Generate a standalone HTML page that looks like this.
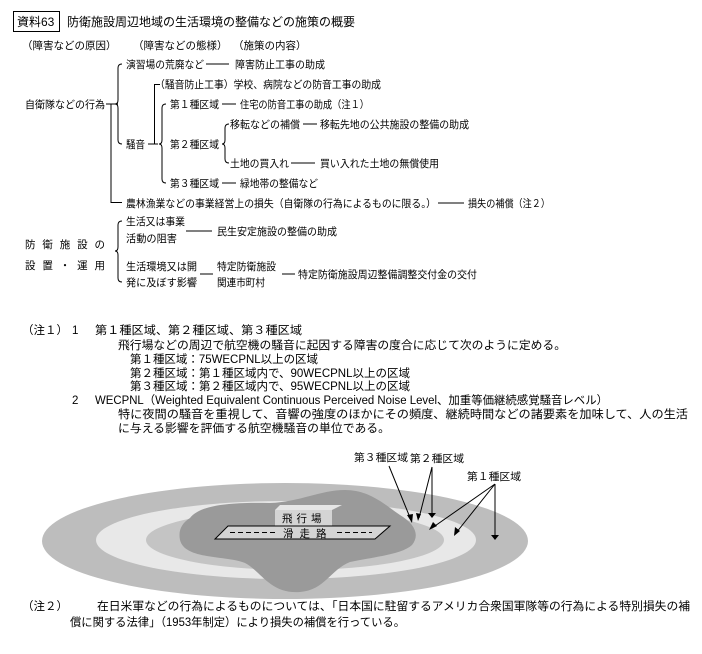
<!DOCTYPE html>
<html><head><meta charset="utf-8"><style>
html,body{margin:0;padding:0;background:#fff;}
svg{display:block;}
text{font-family:"Liberation Sans","Noto Sans CJK JP",sans-serif;font-size:10.5px;fill:#000;}
.t{font-size:12px;}
.n{font-size:11.5px;}
</style></head><body>
<svg width="702" height="654" viewBox="0 0 702 654" xmlns="http://www.w3.org/2000/svg">
<g fill="none" stroke="#000" stroke-width="1">
<rect x="13.5" y="11.5" width="46" height="20"/>
<path d="M106 104H118M111 104V202.5H122"/>
<path d="M122 64Q118 64 118 68V100Q118 104 115 104Q118 104 118 108V140Q118 144 122 144"/>
<path d="M148 144H158M154.5 144V84.5H160"/>
<path d="M166 104Q162 104 162 108V140Q162 144 159 144Q162 144 162 148V179Q162 183 166 183"/>
<path d="M229 124Q225 124 225 128V140Q225 144 222 144Q225 144 225 148V159Q225 163 229 163"/>
<path d="M206 64H229M222 104H236M303 124H317M291 163H315M222 183H236M438 203H464"/>
<path d="M122 221Q118 221 118 225V247Q118 251 115 251Q118 251 118 255V278Q118 282 122 282"/>
<path d="M186 231H212M200 274H213M282 274H295"/>
</g>
<text class="t" x="17" y="26">資料63</text>
<text class="t" x="67" y="26">防衛施設周辺地域の生活環境の整備などの施策の概要</text>
<text x="22" y="49">（障害などの原因）</text>
<text x="133" y="49">（障害などの態様）</text>
<text x="233" y="49">（施策の内容）</text>
<text x="126" y="68" textLength="78" lengthAdjust="spacingAndGlyphs">演習場の荒廃など</text>
<text x="235" y="68" textLength="90" lengthAdjust="spacingAndGlyphs">障害防止工事の助成</text>
<text x="155" y="88" textLength="226" lengthAdjust="spacingAndGlyphs">（騒音防止工事）学校、病院などの防音工事の助成</text>
<text x="25" y="108" textLength="80" lengthAdjust="spacingAndGlyphs">自衛隊などの行為</text>
<text x="170" y="108" textLength="49" lengthAdjust="spacingAndGlyphs">第１種区域</text>
<text x="240" y="108" textLength="129" lengthAdjust="spacingAndGlyphs">住宅の防音工事の助成（注１）</text>
<text x="230" y="128" textLength="70" lengthAdjust="spacingAndGlyphs">移転などの補償</text>
<text x="320" y="128" textLength="149" lengthAdjust="spacingAndGlyphs">移転先地の公共施設の整備の助成</text>
<text x="126" y="148" textLength="19" lengthAdjust="spacingAndGlyphs">騒音</text>
<text x="170" y="148" textLength="49" lengthAdjust="spacingAndGlyphs">第２種区域</text>
<text x="230" y="167" textLength="59" lengthAdjust="spacingAndGlyphs">土地の買入れ</text>
<text x="320" y="167" textLength="119" lengthAdjust="spacingAndGlyphs">買い入れた土地の無償使用</text>
<text x="170" y="187" textLength="49" lengthAdjust="spacingAndGlyphs">第３種区域</text>
<text x="240" y="187" textLength="78" lengthAdjust="spacingAndGlyphs">緑地帯の整備など</text>
<text x="126" y="207" textLength="310" lengthAdjust="spacingAndGlyphs">農林漁業などの事業経営上の損失（自衛隊の行為によるものに限る。）</text>
<text x="468" y="207" textLength="82" lengthAdjust="spacingAndGlyphs">損失の補償（注２）</text>
<text x="126" y="225" textLength="59" lengthAdjust="spacingAndGlyphs">生活又は事業</text>
<text x="126" y="242" textLength="51" lengthAdjust="spacingAndGlyphs">活動の阻害</text>
<text x="217" y="235" textLength="120" lengthAdjust="spacingAndGlyphs">民生安定施設の整備の助成</text>
<text x="25" y="248" textLength="80" lengthAdjust="spacing">防衛施設の</text>
<text x="25" y="269" textLength="80" lengthAdjust="spacing">設置・運用</text>
<text x="126" y="270" textLength="71" lengthAdjust="spacingAndGlyphs">生活環境又は開</text>
<text x="126" y="286" textLength="71" lengthAdjust="spacingAndGlyphs">発に及ぼす影響</text>
<text x="217" y="270" textLength="59" lengthAdjust="spacingAndGlyphs">特定防衛施設</text>
<text x="217" y="286" textLength="48" lengthAdjust="spacingAndGlyphs">関連市町村</text>
<text x="298" y="278" textLength="179" lengthAdjust="spacingAndGlyphs">特定防衛施設周辺整備調整交付金の交付</text>

<text class="n" x="22" y="334">（注１）</text><text class="n" x="72" y="334">1</text>
<text class="n" x="95" y="334" textLength="207" lengthAdjust="spacingAndGlyphs">第１種区域、第２種区域、第３種区域</text>
<text class="n" x="118" y="349" textLength="448" lengthAdjust="spacingAndGlyphs">飛行場などの周辺で航空機の騒音に起因する障害の度合に応じて次のように定める。</text>
<text class="n" x="130" y="363" textLength="188" lengthAdjust="spacingAndGlyphs">第１種区域：75WECPNL以上の区域</text>
<text class="n" x="130" y="377" textLength="280" lengthAdjust="spacingAndGlyphs">第２種区域：第１種区域内で、90WECPNL以上の区域</text>
<text class="n" x="130" y="390" textLength="280" lengthAdjust="spacingAndGlyphs">第３種区域：第２種区域内で、95WECPNL以上の区域</text>
<text class="n" x="72" y="404">2</text>
<text class="n" x="95" y="404" textLength="513" lengthAdjust="spacingAndGlyphs">WECPNL（Weighted Equivalent Continuous Perceived Noise Level、加重等価継続感覚騒音レベル）</text>
<text class="n" x="118" y="418" textLength="570" lengthAdjust="spacingAndGlyphs">特に夜間の騒音を重視して、音響の強度のほかにその頻度、継続時間などの諸要素を加味して、人の生活</text>
<text class="n" x="118" y="432" textLength="272" lengthAdjust="spacingAndGlyphs">に与える影響を評価する航空機騒音の単位である。</text>

<ellipse cx="285" cy="541" rx="243" ry="58" fill="#bdbdbd"/>
<ellipse cx="286" cy="540" rx="190" ry="39" fill="#e8e8e8"/>
<ellipse cx="295" cy="540" rx="149" ry="30" fill="#c4c4c4"/>
<path d="M190 518C200 505 230 502 270 503C300 502 320 490 345 490C370 490 385 505 400 515C415 524 420 535 412 545C402 554 380 556 350 562C330 570 325 590 300 592C270 594 262 572 245 563C225 555 185 560 180 540C178 530 182 523 190 518Z" fill="#9a9a9a"/>
<polygon points="275,510 280,505 342,505 332,510" fill="#e6e6e6"/>
<rect x="275" y="510" width="57" height="16" fill="#d4d4d4"/>
<polygon points="228,526 390,526 375,539 215,539" fill="#d4d4d4" stroke="#000"/>
<path d="M230 532.5H275M337 532.5H372" stroke="#000" stroke-dasharray="5,3"/>
<text x="282" y="522" font-size="11" letter-spacing="4">飛行場</text>
<text x="283" y="537" font-size="11" letter-spacing="6">滑走路</text>
<text x="354" y="461" textLength="54" lengthAdjust="spacingAndGlyphs">第３種区域</text>
<text x="410" y="462" textLength="54" lengthAdjust="spacingAndGlyphs">第２種区域</text>
<text x="467" y="480" textLength="54" lengthAdjust="spacingAndGlyphs">第１種区域</text>
<g stroke="#000" fill="none">
<path d="M389 466L411 520M432 467L419 518M432 467V514M495 484L432 528M495 484L456 533M495 484V536"/>
</g>
<g fill="#000">
<polygon points="412,523 407,515 413,514"/>
<polygon points="418,521 416,513 421,514"/>
<polygon points="432,518 428,513 436,513"/>
<polygon points="429,530 433,522 437,526"/>
<polygon points="454,536 455,527 460,531"/>
<polygon points="495,540 491,535 499,535"/>
</g>

<text class="n" x="22" y="610">（注２）</text>
<text class="n" x="97" y="610" textLength="593" lengthAdjust="spacingAndGlyphs">在日米軍などの行為によるものについては、「日本国に駐留するアメリカ合衆国軍隊等の行為による特別損失の補</text>
<text class="n" x="70" y="626" textLength="335" lengthAdjust="spacingAndGlyphs">償に関する法律」（1953年制定）により損失の補償を行っている。</text>
</svg>
</body></html>
